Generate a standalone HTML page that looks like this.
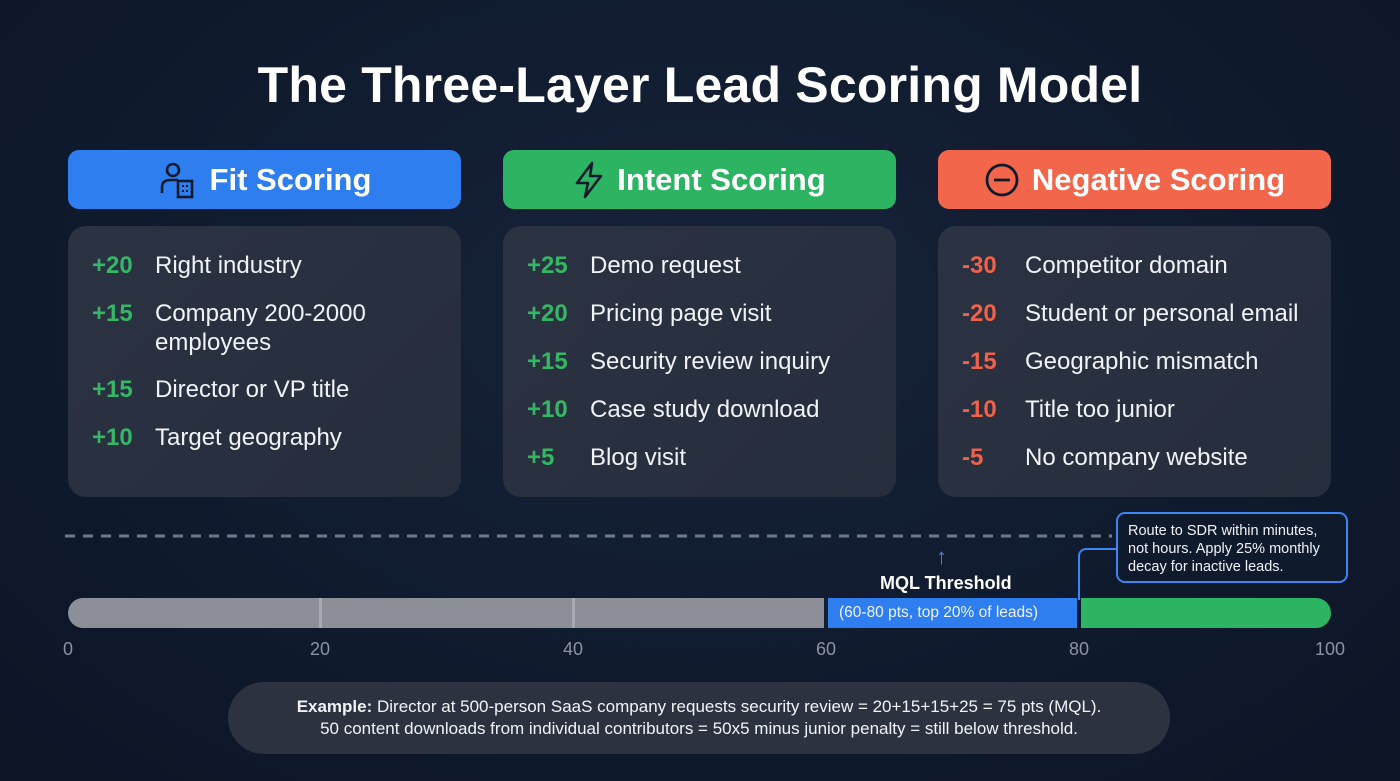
<!DOCTYPE html>
<html><head><style>
body{margin:0;width:1400px;height:781px;overflow:hidden;background:radial-gradient(ellipse at 50% 40%,#17233a 0%,#0f1a2d 60%,#0c1526 100%);font-family:"Liberation Sans",sans-serif;position:relative;color:#fff}
.a{position:absolute}
h1{position:absolute;left:0;width:1400px;top:56px;margin:0;text-align:center;font-size:50px;font-weight:bold;color:#fff;letter-spacing:0.2px}
.hd{position:absolute;top:150px;height:59px;width:393px;border-radius:11px;display:flex;align-items:center;justify-content:center;font-size:31px;font-weight:bold;gap:12px}
.card{position:absolute;top:226px;height:271px;width:393px;border-radius:18px;background:linear-gradient(135deg,#2b3242,#262d3c)}
.row{position:absolute;left:24px;font-size:24px;color:#f1f3f6;line-height:29px}
.row b{position:absolute;left:0;width:60px;font-weight:bold}
.row span{position:absolute;left:63px;white-space:nowrap}
.g b{color:#35b665}.r b{color:#ef6149}
.tk{position:absolute;top:639px;font-size:18px;color:#8a93a3;transform:translateX(-50%)}
</style></head><body>
<h1>The Three-Layer Lead Scoring Model</h1>
<div class="hd" style="left:68px;background:#2f7ef0"><svg width="40" height="38" viewBox="0 0 40 38"><circle cx="15" cy="9" r="6" fill="none" stroke="#111a2c" stroke-width="2.6"/><path d="M4 32 V26 Q4 19 13 19 H20" fill="none" stroke="#111a2c" stroke-width="2.6"/><rect x="20" y="20" width="14" height="16" fill="none" stroke="#111a2c" stroke-width="2.6"/><rect x="24" y="24" width="2" height="2" fill="#111a2c"/><rect x="28" y="24" width="2" height="2" fill="#111a2c"/><rect x="24" y="29" width="2" height="2" fill="#111a2c"/><rect x="28" y="29" width="2" height="2" fill="#111a2c"/></svg>Fit Scoring</div>
<div class="hd" style="left:503px;background:#2cb463"><svg width="32" height="38" viewBox="0 0 32 38"><path d="M19 2 L4 22 H15 L12 36 L28 15 H17 Z" fill="none" stroke="#111a2c" stroke-width="2.6" stroke-linejoin="round"/></svg>Intent Scoring</div>
<div class="hd" style="left:938px;background:#f2674b"><svg width="36" height="36" viewBox="0 0 36 36"><circle cx="18" cy="18" r="15" fill="none" stroke="#111a2c" stroke-width="2.8"/><path d="M10 18 H26" stroke="#111a2c" stroke-width="2.8"/></svg>Negative Scoring</div>

<div class="card" style="left:68px">
<div class="row g" style="top:25px"><b>+20</b><span>Right industry</span></div>
<div class="row g" style="top:73px"><b>+15</b><span>Company 200-2000<br>employees</span></div>
<div class="row g" style="top:149px"><b>+15</b><span>Director or VP title</span></div>
<div class="row g" style="top:197px"><b>+10</b><span>Target geography</span></div>
</div>
<div class="card" style="left:503px">
<div class="row g" style="top:25px"><b>+25</b><span>Demo request</span></div>
<div class="row g" style="top:73px"><b>+20</b><span>Pricing page visit</span></div>
<div class="row g" style="top:121px"><b>+15</b><span>Security review inquiry</span></div>
<div class="row g" style="top:169px"><b>+10</b><span>Case study download</span></div>
<div class="row g" style="top:217px"><b>+5</b><span>Blog visit</span></div>
</div>
<div class="card" style="left:938px">
<div class="row r" style="top:25px"><b>-30</b><span>Competitor domain</span></div>
<div class="row r" style="top:73px"><b>-20</b><span>Student or personal email</span></div>
<div class="row r" style="top:121px"><b>-15</b><span>Geographic mismatch</span></div>
<div class="row r" style="top:169px"><b>-10</b><span>Title too junior</span></div>
<div class="row r" style="top:217px"><b>-5</b><span>No company website</span></div>
</div>

<svg class="a" style="left:0;top:530px" width="1120" height="12"><line x1="65" y1="6" x2="1112" y2="6" stroke="#6f7889" stroke-width="3" stroke-dasharray="10 8"/></svg>
<div class="a" style="left:936px;top:544px;color:#3b86f2;font-size:22px">↑</div>
<div class="a" style="left:880px;top:573px;font-size:18px;font-weight:bold">MQL Threshold</div>
<div class="a" style="left:1078px;top:548px;width:40px;height:50px;border-left:2px solid #3b86f2;border-top:2px solid #3b86f2;border-top-left-radius:8px"></div>
<div class="a" style="left:1116px;top:512px;width:232px;height:71px;border:2px solid #3b86f2;border-radius:9px;background:#0f1a2d;box-sizing:border-box;padding:8px 10px;font-size:14.5px;line-height:18px;color:#f0f2f5">Route to SDR within minutes, not hours. Apply 25% monthly decay for inactive leads.</div>

<div class="a" style="left:68px;top:598px;width:756px;height:30px;background:#8c8f98;border-radius:15px 0 0 15px"></div>
<div class="a" style="left:319px;top:598px;width:3px;height:30px;background:#a8abb2"></div>
<div class="a" style="left:572px;top:598px;width:3px;height:30px;background:#a8abb2"></div>
<div class="a" style="left:828px;top:598px;width:249px;height:30px;background:#2f7ef0;font-size:15.5px;line-height:30px;text-indent:11px;color:#eef3ff">(60-80 pts, top 20% of leads)</div>
<div class="a" style="left:1081px;top:598px;width:250px;height:30px;background:#2cb463;border-radius:0 15px 15px 0"></div>
<div class="tk" style="left:68px">0</div><div class="tk" style="left:320px">20</div><div class="tk" style="left:573px">40</div><div class="tk" style="left:826px">60</div><div class="tk" style="left:1079px">80</div><div class="tk" style="left:1330px">100</div>

<div class="a" style="left:228px;top:682px;width:942px;height:72px;border-radius:36px;background:#2c3240;text-align:center;font-size:17px;line-height:22px;padding-top:14px;box-sizing:border-box;color:#f1f3f6"><b>Example:</b> Director at 500-person SaaS company requests security review = 20+15+15+25 = 75 pts (MQL).<br>50 content downloads from individual contributors = 50x5 minus junior penalty = still below threshold.</div>
</body></html>
